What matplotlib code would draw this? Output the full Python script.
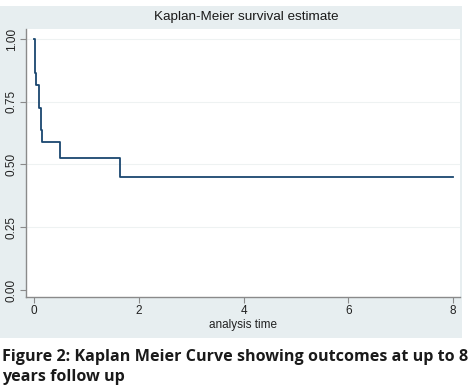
import matplotlib
matplotlib.use("Agg")
import matplotlib.pyplot as plt

# Kaplan-Meier steps (time in years, survival probability)
times = [0, 0.01, 0.04, 0.10, 0.13, 0.16, 0.50, 1.65, 8.0]
surv = [1.0, 0.864, 0.818, 0.727, 0.636, 0.591, 0.525, 0.45, 0.45]

xticks = [0, 2, 4, 6, 8]
yticks = [0.0, 0.25, 0.5, 0.75, 1.0]
ytick_labels = ["0.00", "0.25", "0.50", "0.75", "1.00"]

bg = "#e7eef0"
line_col = "#1a476f"
axis_col = "#8a8a8a"

fig = plt.figure(figsize=(4.73, 3.89), dpi=100)
fig.patch.set_facecolor("white")

# stata graph region
bg_ax = fig.add_axes([0, 0.131, 0.977, 0.854], zorder=0)
bg_ax.set_facecolor(bg)
bg_ax.set_xticks([])
bg_ax.set_yticks([])
for s in bg_ax.spines.values():
    s.set_visible(False)

ax = fig.add_axes([0.055, 0.2365, 0.9175, 0.689], zorder=1)
ax.set_facecolor("white")
ax.plot(times, surv, drawstyle="steps-post", color=line_col, lw=1.3)

ax.set_xlim(-0.153, 8.13)
ax.set_ylim(-0.028, 1.04)
ax.set_xticks(xticks)
ax.set_xticklabels([str(t) for t in xticks], fontsize=8.5, family="Liberation Sans")
ax.set_yticks(yticks)
ax.set_yticklabels(ytick_labels, fontsize=8.5, family="Liberation Sans",
                   rotation=90, va="center")
for y in yticks[1:]:
    ax.axhline(y, color="#eef2f2", lw=0.8, zorder=0)

for s in ["top", "right"]:
    ax.spines[s].set_visible(False)
for s in ["left", "bottom"]:
    ax.spines[s].set_color(axis_col)
    ax.spines[s].set_linewidth(1.0)
ax.tick_params(colors=axis_col, labelcolor="#222222", length=4, width=0.8, pad=2)

ax.set_xlabel("analysis time", fontsize=8.5, family="Liberation Sans",
              color="#222222", labelpad=1)

fig.text(0.52, 0.956, "Kaplan-Meier survival estimate", ha="center", va="center",
         fontsize=9.7, family="Liberation Sans", color="#1a1a1a", zorder=2)

fig.text(0.004, 0.083, "Figure 2: Kaplan Meier Curve showing outcomes at up to 8",
         fontsize=11.6, fontweight="bold", family="Open Sans", color="#1a1a1a",
         ha="left", va="center")
fig.text(0.004, 0.031, "years follow up",
         fontsize=11.6, fontweight="bold", family="Open Sans", color="#1a1a1a",
         ha="left", va="center")

fig.savefig("out.png", dpi=100, facecolor="white")
